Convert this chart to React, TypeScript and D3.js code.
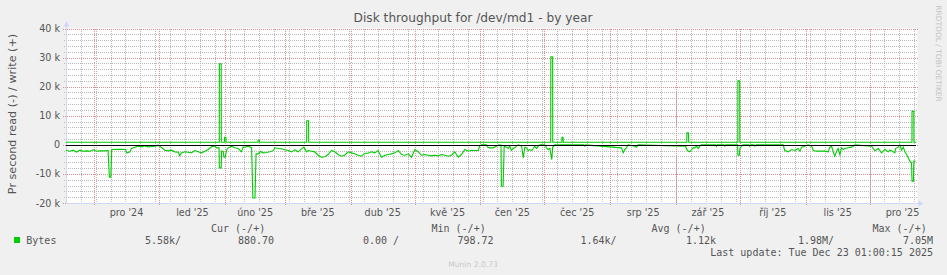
import React from 'react';
import * as d3 from 'd3';

const WIDTH = 947;
const HEIGHT = 275;
const DAY = 86400000;
const START = new Date(2024, 10, 18, 1, 0, 0);
const END = new Date(2025, 11, 23, 1, 0, 0);

const title = 'Disk throughput for /dev/md1 - by year';
const yAxisLabel = 'Pr second read (-) / write (+)';
const yTicks = [-20000, -10000, 0, 10000, 20000, 30000, 40000];
const yTickLabels = ['-20 k', '-10 k', '0', '10 k', '20 k', '30 k', '40 k'];
const monthNames = ['led', 'úno', 'bře', 'dub', 'kvě', 'čen', 'čec', 'srp', 'zář', 'říj', 'lis', 'pro'];

// [day offset from START, kB/s]
const writeSeries: [number, number][] = [
  [0, 0.88], [72.1, 0.88], [72.15, 27.9], [73.0, 27.9], [73.05, 0.88],
  [74.5, 0.88], [74.6, 2.6], [75.2, 2.6], [75.3, 0.88],
  [90.3, 0.88], [90.4, 1.6], [90.9, 1.6], [91.0, 0.88],
  [113.2, 0.88], [113.25, 8.3], [114.1, 8.3], [114.15, 0.88],
  [228.0, 0.88], [228.05, 30.3], [228.9, 30.3], [228.95, 0.88],
  [233.2, 0.88], [233.3, 2.6], [233.8, 2.6], [233.9, 0.88],
  [292.0, 0.88], [292.1, 4.1], [292.8, 4.1], [292.9, 0.88],
  [316.0, 0.88], [316.05, 22.0], [316.9, 22.0], [316.95, 0.88],
  [397.9, 0.88], [397.95, 11.5], [398.8, 11.5], [398.85, 0.88], [400, 0.88],
];

const readSeries: [number, number][] = [
  [0, -1.84], [1.8, -2.18], [3.4, -1.84], [4.9, -2.53], [6.5, -1.84], [8.1, -2.18], [9.6, -2.07],
  [11.2, -2.18], [12.8, -1.72], [14.3, -2.18], [15.9, -2.07], [17.5, -2.07], [19.8, -1.95],
  [20.4, -11.1], [21.1, -11.1], [21.5, -1.61], [26, -1.5], [28, -1.6], [28.6, -2.76], [30, -2.5],
  [30.8, -1.26], [32.4, -0.8], [34, -0.46], [35.5, -0.7], [37, -0.35], [38.7, -0.7], [40.2, -0.57],
  [41.8, -0.46], [43.4, -0.11], [44.9, -0.92], [46.5, -1.84], [48.1, -2.07], [49.6, -1.84],
  [51.2, -2.41], [52.8, -2.53], [53.5, -3.68], [54.3, -2.76], [55.9, -2.41], [57.5, -2.53],
  [59, -2.76], [60.6, -1.95], [62.2, -2.41], [63.7, -2.76], [65.3, -2.18], [66.9, -1.61],
  [68.4, -0.7], [70, -0.35], [70.8, -1.03], [72.0, -1.03], [72.15, -7.93], [73.0, -7.93],
  [73.2, -2.18], [73.9, -2.2], [74.3, -4.25], [74.9, -4.25], [75.5, -1.84], [76.3, -1.03],
  [77.8, -0.46], [79.4, -1.03], [81, -1.26], [82.5, -2.41], [83.3, -0.8], [84.1, -0.8],
  [85.7, -0.46], [87.3, -1.03], [87.9, -18.3], [88.9, -18.3], [89.4, -3.1], [90.4, -3.1],
  [91.5, -2.3], [92.7, -2.76], [94.3, -2.64], [95.9, -2.41], [97.5, -2.0], [98.2, -1.03],
  [99.8, -1.26], [101.4, -1.38], [102.9, -1.72], [104.5, -1.95], [106.1, -2.41], [107.6, -1.72],
  [109.2, -2.41], [110.8, -1.38], [111.9, -0.8], [113.1, -2.41], [113.9, -1.95], [115.5, -2.18],
  [117, -2.41], [118.6, -3.56], [120.2, -4.25], [121.7, -4.1], [123.3, -3.33], [124.9, -1.95],
  [126.4, -2.41], [128, -3.33], [129.6, -3.91], [131.1, -3.56], [132.7, -2.41], [134.3, -2.76],
  [135.8, -3.1], [137.4, -3.56], [139, -3.91], [140.5, -2.87], [142.1, -2.87], [143.7, -2.41],
  [145.2, -2.76], [146.8, -1.95], [148.4, -4.25], [150, -3.56], [151.5, -3.33], [153.1, -3.1],
  [154.7, -2.76], [156.3, -1.95], [157.8, -3.33], [159.4, -3.56], [161, -3.1], [162.5, -4.25],
  [164.1, -1.61], [165.7, -2.41], [167.2, -3.56], [168.8, -3.33], [170.4, -3.56], [171.9, -3.79],
  [173.5, -3.56], [175.1, -3.79], [176.6, -3.33], [178.2, -3.56], [179.8, -3.91], [181.3, -3.56],
  [182.9, -2.41], [184.5, -4.25], [186, -3.33], [187.6, -1.61], [189.2, -2.18], [190.7, -1.84],
  [192.3, -1.95], [193.9, -1.95], [194.6, -0.35], [195.4, 0], [197.8, 0], [198.3, -0.8],
  [199.3, -1.03], [200.9, -1.03], [202.5, -0.46], [203.3, -0.1], [204.6, -0.1], [204.8, -14.25],
  [205.6, -14.25], [206.1, -0.46], [207.2, -0.8], [208, -1.26], [208.7, -0.46], [209.5, -1.95],
  [210.3, -1.26], [211.1, -1.03], [211.9, -0.46], [212.7, 0], [214.3, -0.46], [215.1, -4.48],
  [215.8, -0.8], [216.6, -1.03], [217.4, -1.95], [218.2, -1.61], [219, -1.95], [219.8, -1.26],
  [220.5, -0.46], [221.3, -1.26], [222.1, -0.46], [222.9, 0], [225.2, 0], [226, -1.03],
  [226.8, -1.61], [227.6, -1.26], [228.5, -5.06], [228.9, -0.8], [229.9, 0], [243.5, 0],
  [244, -0.46], [244.5, 0], [261.3, -1.03], [262.1, -2.76], [262.8, -1.61], [263.6, -1.03],
  [264.4, 0], [267.5, -0.46], [268.3, -0.8], [269.1, 0], [291.4, -0.46], [292.3, -1.95],
  [293.4, -2.41], [294.2, -1.6], [295, -1.03], [295.8, -1.03], [296.6, -0.46], [297.4, -1.26],
  [298.1, -0.46], [298.9, 0], [305.5, 0], [305.9, -0.57], [306.3, 0], [309.5, 0], [309.9, -0.46],
  [310.3, 0], [315.9, 0], [316.05, -3.56], [316.7, -3.56], [317.0, -1.26], [317.7, -0.46],
  [318.5, 0], [321.2, 0], [321.6, -0.46], [322, 0], [323.6, 0], [324, -0.46], [324.8, 0],
  [337.3, 0], [338.1, -1.95], [339.7, -2.41], [341.3, -1.61], [342.8, -1.95], [344.4, -1.26],
  [345.2, -2.18], [346, -0.8], [347.5, -0.46], [349.1, 0], [350.7, -0.46], [351.5, -1.95],
  [353, -2.18], [355.4, -2.18], [356.9, -2.18], [358.5, -2.41], [359.3, -0.8], [360.1, -0.46],
  [360.9, -2.41], [361.6, -3.91], [362.4, -2.41], [363.2, -1.26], [364, -3.33], [364.8, -1.03],
  [365.6, -1.61], [366.3, -1.26], [367.9, -1.03], [369.5, -0.8], [370.3, -0.46], [371.1, 0],
  [378.9, -0.46], [380.5, -2.07], [382.1, -1.26], [383.6, -2.76], [384.4, -2.07], [385.2, -1.61],
  [386.8, -2.41], [387.5, -1.84], [388.3, -2.07], [389.9, -2.76], [390.2, -1.26], [391.4, -0.8],
  [392.2, 0], [393, -1.84], [393.8, -0.8], [394.6, -2.41], [395.4, -3.33], [396.2, -4.48],
  [396.9, -5.6], [397.7, -6.2], [397.95, -12.5], [398.6, -12.5], [398.8, -5.6], [399.6, -5.6],
];

const legendHeaders = ['Cur (-/+)', 'Min (-/+)', 'Avg (-/+)', 'Max (-/+)'];
const legendHeaderX = [211, 431.5, 651.5, 872.5];
const seriesName = 'Bytes';
const legendValues = ['5.58k/', '880.70', '0.00 /', '798.72', '1.64k/', '1.12k', '1.98M/', '7.05M'];
const legendValueX = [145, 238, 363, 457.5, 580.5, 686, 798, 903];
const lastUpdate = 'Last update: Tue Dec 23 01:00:15 2025';
const footer = 'Munin 2.0.73';
const watermark = 'RRDTOOL / TOBI OETIKER';

const LINE = '#00CC00';
const FONT = '#555555';
const AXIS = '#CFD6F8';
const MINOR = '#b9b9b9';
const MAJOR = '#dc9090';

export default function App() {
  const left = 66;
  const right = 916.4;
  const top = 28.5;
  const bottom = 203;
  const x = d3.scaleTime().domain([START, END]).range([left, right]);
  const y = d3.scaleLinear().domain([-20000, 40000]).range([bottom, top]);
  const toDate = (d: number) => new Date(START.getTime() + d * DAY);
  const line = d3
    .line<[number, number]>()
    .x((d) => x(toDate(d[0])))
    .y((d) => y(d[1] * 1000));

  const crisp = (v: number) => Math.round(v) + 0.5;
  const gridRight = 917.5;

  const minorY = d3.range(-20000, 40001, 2000).filter((v) => v % 10000 !== 0);
  const weeks = d3.timeMonday.range(START, END);
  const months = d3.timeMonth.range(START, END);
  const labelMonths = d3.timeMonth.range(d3.timeMonth.floor(START), END).filter((m) => {
    const mid = (x(m) + x(d3.timeMonth.offset(m, 1))) / 2;
    return mid >= left && mid <= right;
  });

  const sans = '"DejaVu Sans", Verdana, sans-serif';
  const mono = '"DejaVu Sans Mono", monospace';

  return (
    <svg
      width={WIDTH}
      height={HEIGHT}
      style={{ position: 'absolute', left: 0, top: 0, display: 'block' }}
      xmlns="http://www.w3.org/2000/svg"
    >
      <rect x={0} y={0} width={WIDTH} height={HEIGHT} fill="#F0F0F0" />
      <rect x={left} y={top} width={gridRight - left} height={bottom - top} fill="#FFFFFF" />

      {/* minor grid */}
      <g stroke={MINOR} strokeWidth={1} strokeDasharray="1,1" shapeRendering="crispEdges">
        {minorY.map((v) => (
          <line key={'my' + v} x1={left - 2} x2={gridRight} y1={crisp(y(v))} y2={crisp(y(v))} />
        ))}
        {weeks.map((w) => (
          <line key={'wx' + w.getTime()} x1={crisp(x(w))} x2={crisp(x(w))} y1={top} y2={bottom + 2} />
        ))}
      </g>
      {/* major grid */}
      <g stroke={MAJOR} strokeWidth={1} strokeDasharray="1,1" shapeRendering="crispEdges">
        {yTicks.map((v) => (
          <line key={'My' + v} x1={left - 3} x2={gridRight} y1={crisp(y(v))} y2={crisp(y(v))} />
        ))}
        {months.map((m) => (
          <line key={'Mx' + m.getTime()} x1={crisp(x(m))} x2={crisp(x(m))} y1={top} y2={bottom + 3} />
        ))}
      </g>

      {/* axes */}
      <g stroke={AXIS} strokeWidth={1} shapeRendering="crispEdges">
        <line x1={left + 0.5} x2={left + 0.5} y1={bottom + 1} y2={top - 4} />
        <line x1={left} x2={gridRight + 2} y1={bottom + 0.5} y2={bottom + 0.5} />
      </g>
      <path d={`M${left - 2.5},${top - 2} L${left + 3.5},${top - 2} L${left + 0.5},${top - 7} Z`} fill={AXIS} />
      <path d={`M${gridRight + 1},${bottom - 2.5} L${gridRight + 1},${bottom + 3.5} L${gridRight + 6},${bottom + 0.5} Z`} fill={AXIS} />

      {/* data */}
      <path d={line(readSeries) || ''} fill="none" stroke={LINE} strokeWidth={1.1} strokeLinejoin="miter" />
      <path d={line(writeSeries) || ''} fill="none" stroke={LINE} strokeWidth={1.1} strokeLinejoin="miter" />
      <line x1={left} x2={right} y1={crisp(y(0))} y2={crisp(y(0))} stroke="#000" strokeWidth={1} shapeRendering="crispEdges" />

      {/* y tick labels */}
      <g fontFamily={sans} fontSize={9.6} fill={FONT} textAnchor="end">
        {yTicks.map((v, i) => (
          <text key={'yl' + v} x={60} y={y(v) + 3.5}>
            {yTickLabels[i]}
          </text>
        ))}
      </g>
      {/* x labels */}
      <g fontFamily={sans} fontSize={9.6} fill={FONT} textAnchor="middle">
        {labelMonths.map((m) => {
          const mid = (x(m) + x(d3.timeMonth.offset(m, 1))) / 2;
          return (
            <text key={'xl' + m.getTime()} x={mid} y={216}>
              {`${monthNames[m.getMonth()]} '${String(m.getFullYear()).slice(2)}`}
            </text>
          );
        })}
      </g>

      {/* title */}
      <text x={473} y={22} textAnchor="middle" fontFamily={sans} fontSize={12.2} fill={FONT}>
        {title}
      </text>
      {/* y axis label */}
      <text
        transform="translate(15.5,114) rotate(-90)"
        textAnchor="middle"
        fontFamily={sans}
        fontSize={11.2}
        fill={FONT}
      >
        {yAxisLabel}
      </text>
      {/* watermark */}
      <text
        transform="translate(936,53.5) rotate(90)"
        textAnchor="middle"
        fontFamily={sans}
        fontSize={7.5}
        fill="#c4c4c4"
      >
        {watermark}
      </text>

      {/* legend */}
      <g fontFamily={mono} fontSize={10} fill={FONT}>
        {legendHeaders.map((h, i) => (
          <text key={'lh' + i} x={legendHeaderX[i]} y={232}>
            {h}
          </text>
        ))}
        <rect x={14} y={237} width={6} height={6} fill={LINE} />
        <text x={26.3} y={244}>
          {seriesName}
        </text>
        {legendValues.map((v, i) => (
          <text key={'lv' + i} x={legendValueX[i]} y={244} style={{ whiteSpace: 'pre' }}>
            {v}
          </text>
        ))}
        <text x={933} y={256} textAnchor="end">
          {lastUpdate}
        </text>
      </g>
      <text x={473} y={267} textAnchor="middle" fontFamily={sans} fontSize={7.6} fill="#c8c8c8">
        {footer}
      </text>
    </svg>
  );
}
